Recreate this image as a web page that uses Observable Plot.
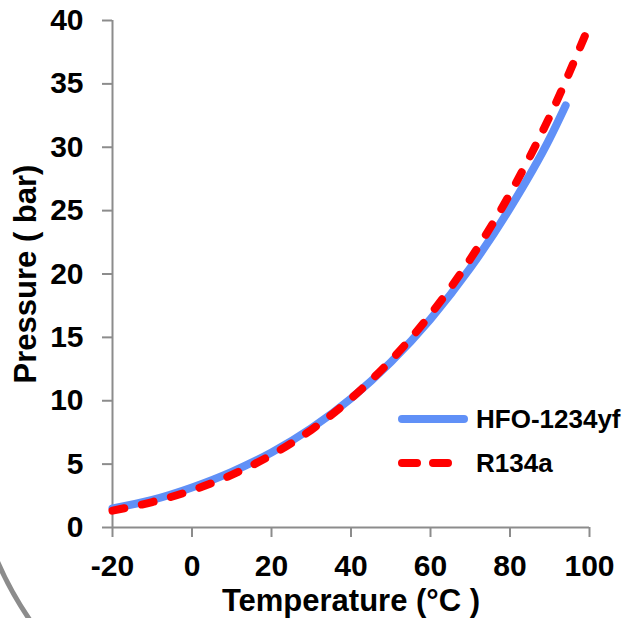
<!DOCTYPE html>
<html>
<head>
<meta charset="utf-8">
<script src="https://cdn.jsdelivr.net/npm/d3@7"></script>
<script src="https://cdn.jsdelivr.net/npm/@observablehq/plot@0.6"></script>
<style>
  html, body { margin: 0; padding: 0; background: #fff; }
  #wrap { position: relative; width: 624px; height: 618px; overflow: hidden; font-family: "Liberation Sans", Arial, sans-serif; }
  #wrap > svg.deco, #wrap > svg.legend { position: absolute; left: 0; top: 0; }
</style>
</head>
<body>
<div id="wrap"></div>
<script>
// ---- data ----
const hfoTemp = [-20, -10, 0, 10, 20, 30, 40, 50, 60, 70, 80, 90, 94];
const hfoPressure = [1.51, 2.18, 3.16, 4.39, 5.92, 7.83, 10.18, 13.04, 16.44, 20.47, 25.2, 30.7, 33.3];
const r134Temp = [-20, -10, 0, 10, 20, 30, 40, 50, 60, 70, 80, 90, 99];
const r134Pressure = [1.33, 2.01, 2.93, 4.15, 5.72, 7.70, 10.17, 13.18, 16.82, 21.17, 26.33, 32.44, 38.9];
const seriesNames = ["HFO-1234yf", "R134a"];
const xTicks = [-20, 0, 20, 40, 60, 80, 100];
const yTicks = [0, 5, 10, 15, 20, 25, 30, 35, 40];
const xLabel = "Temperature (°C )";
const yLabel = "Pressure ( bar)";

const hfo = hfoTemp.map((t, i) => ({t, p: hfoPressure[i]}));
const r134 = r134Temp.map((t, i) => ({t, p: r134Pressure[i]}));

const BLUE = "#6090f7", RED = "#ff0000", GRAY = "#8c8c8c";
const FONT = "'Liberation Sans', Arial, sans-serif";

const plot = Plot.plot({
  width: 624,
  height: 618,
  marginLeft: 112,
  marginRight: 35,
  marginTop: 20,
  marginBottom: 91,
  style: {fontFamily: FONT, fontWeight: "bold", background: "transparent", overflow: "visible"},
  x: {domain: [-20, 100]},
  y: {domain: [0, 40]},
  marks: [
    Plot.axisX({ticks: xTicks, tickSize: 10, tickPadding: 17, fontSize: 30, fontWeight: "bold",
                stroke: GRAY, strokeWidth: 2, fill: "black", label: null, tickFormat: d => String(d)}),
    Plot.axisY({ticks: yTicks, tickSize: 10, stroke: GRAY, strokeWidth: 2, label: null, tickFormat: () => ""}),
    Plot.text(yTicks, {y: d => d, text: d => String(d), frameAnchor: "left", dx: -29,
                       textAnchor: "end", lineAnchor: "middle", fontSize: 30, fontWeight: "bold", fill: "black"}),
    Plot.ruleX([-20], {stroke: GRAY, strokeWidth: 2}),
    Plot.ruleY([0], {stroke: GRAY, strokeWidth: 2}),
    Plot.line(hfo, {x: "t", y: "p", stroke: BLUE, strokeWidth: 8, curve: "monotone-x", strokeLinecap: "round"}),
    Plot.line(r134, {x: "t", y: "p", stroke: RED, strokeWidth: 8, curve: "monotone-x",
                     strokeDasharray: "12,18", strokeLinecap: "round"}),
    Plot.text([yLabel], {frameAnchor: "left", dx: -86, rotate: -90, fontSize: 31, fontWeight: "bold",
                         fill: "black", textAnchor: "middle", lineAnchor: "middle"}),
    Plot.text([xLabel], {frameAnchor: "bottom", dy: 74, fontSize: 31, fontWeight: "bold",
                         fill: "black", textAnchor: "middle", lineAnchor: "middle"})
  ]
});

const wrap = document.getElementById("wrap");

// decorative grey arc in the lower-left corner (slide background)
const deco = d3.create("svg").attr("class", "deco").attr("width", 624).attr("height", 618);
deco.append("path")
  .attr("d", "M -11 540 A 348 348 0 0 0 37 630")
  .attr("fill", "none").attr("stroke", GRAY).attr("stroke-width", 5);
wrap.appendChild(deco.node());

plot.style.position = "absolute";
plot.style.left = "0px";
plot.style.top = "0px";
wrap.appendChild(plot);

// legend
const leg = d3.create("svg").attr("class", "legend").attr("width", 624).attr("height", 618)
  .style("font-family", FONT).style("font-weight", "bold");
const rows = [
  {name: seriesNames[0], color: BLUE, dash: null, y: 419},
  {name: seriesNames[1], color: RED, dash: "15,16", y: 463}
];
for (const r of rows) {
  const ln = leg.append("line").attr("x1", 402).attr("x2", 464).attr("y1", r.y).attr("y2", r.y)
    .attr("stroke", r.color).attr("stroke-width", 8).attr("stroke-linecap", "round");
  if (r.dash) ln.attr("stroke-dasharray", r.dash);
  leg.append("text").attr("x", 476).attr("y", r.y).attr("dy", "0.36em")
    .attr("font-size", 26).attr("fill", "black").text(r.name);
}
wrap.appendChild(leg.node());
</script>
</body>
</html>
